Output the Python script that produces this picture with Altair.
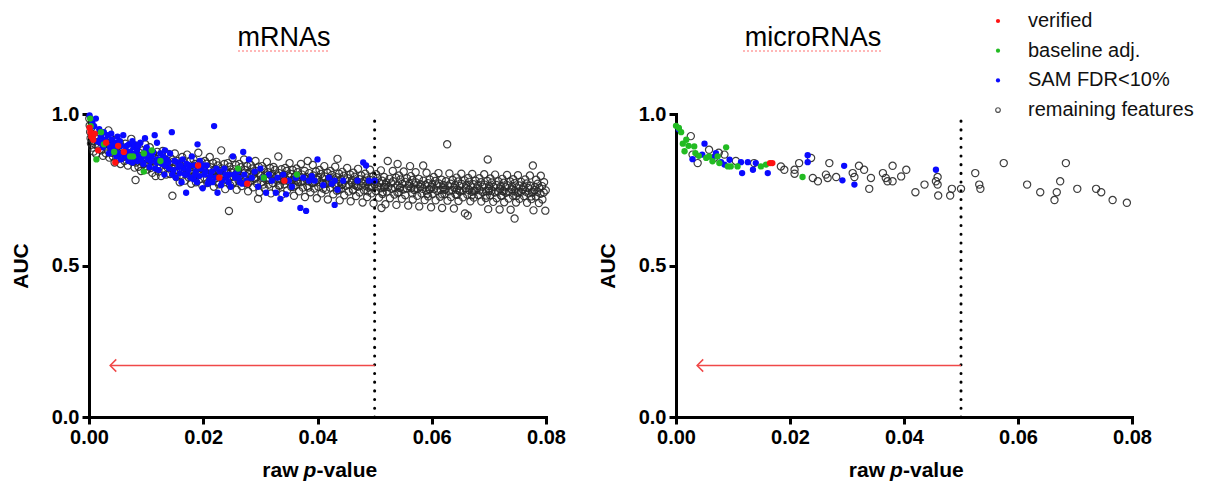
import altair as alt
import pandas as pd

# ---------------- data ----------------
x_ticks = [0.0, 0.02, 0.04, 0.06, 0.08]
y_ticks = [0.0, 0.5, 1.0]
p_cutoff = [0.05]
arrow_tip_p = [0.0037]
arrow_auc = [0.17]

legend_labels = ["verified", "baseline adj.", "SAM FDR<10%", "remaining features"]
legend_colors = ["#ff1111", "#22bb22", "#0a0aff", "#555555"]

# mRNAs: (raw p-value * 1e5, AUC * 1e3)
mrna_grey = [
    (5,985),(12,962),(20,941),(28,920),(35,903),(44,955),(52,930),(60,889),(70,912),(82,876),(95,948),(110,900),(125,868),(140,925),(160,891),(180,910),
    (205,935),(215,880),(230,910),(245,862),(260,898),(278,925),(295,870),(310,905),(325,884),(340,946),(355,856),(370,893),(385,918),(395,872),
    (405,900),(418,860),(430,885),(448,840),(462,915),(475,870),(490,893),(505,852),(520,878),(538,905),(552,835),(566,866),(580,890),(595,858),
    (605,880),(620,845),(634,902),(650,860),(665,873),(680,830),(694,888),(710,851),(725,867),(740,918),(755,842),(770,876),(785,858),(798,823),
    (805,865),(815,782),(822,840),(838,895),(850,855),(866,826),(880,872),(895,845),(910,812),(925,862),(940,880),(955,835),(970,857),(985,900),(995,828),
    (1005,852),(1020,817),(1034,866),(1050,838),(1063,890),(1078,822),(1092,845),(1108,806),(1122,870),(1137,833),(1150,855),(1165,795),(1180,842),(1195,875),
    (1205,845),(1218,810),(1232,862),(1248,828),(1262,795),(1275,840),(1290,878),(1305,817),(1320,852),(1334,832),(1350,800),(1364,846),(1378,823),(1392,868),
    (1405,836),(1418,802),(1430,855),(1445,822),(1460,730),(1472,842),(1488,810),(1502,870),(1516,828),(1530,792),(1545,845),(1558,815),(1572,836),(1588,775),
    (1605,830),(1620,795),(1632,858),(1648,815),(1662,840),(1676,780),(1690,822),(1705,805),(1718,866),(1733,828),(1748,790),(1760,812),(1776,845),(1790,770),
    (1805,825),(1818,792),(1830,850),(1845,812),(1858,835),(1872,775),(1886,818),(1900,800),(1914,872),(1928,826),(1942,786),(1956,808),(1970,842),(1985,763),(1996,818),
    (2005,820),(2018,790),(2030,845),(2045,806),(2058,836),(2072,772),(2086,815),(2100,797),(2114,858),(2128,824),(2142,783),(2156,805),(2170,838),(2185,760),(2195,812),
    (2205,816),(2218,788),(2230,842),(2245,803),(2258,830),(2272,768),(2286,812),(2300,795),(2314,880),(2328,820),(2342,780),(2356,800),(2370,835),(2385,752),(2396,808),
    (2405,812),(2418,784),(2430,838),(2450,680),(2458,826),(2472,765),(2486,808),(2500,792),(2514,855),(2528,818),(2542,776),(2556,798),(2570,832),(2585,750),(2596,805),
    (2605,810),(2618,780),(2630,835),(2645,796),(2658,824),(2672,762),(2686,806),(2700,790),(2714,850),(2728,815),(2742,773),(2756,795),(2770,828),(2785,745),(2796,802),
    (2805,806),(2818,778),(2830,832),(2845,793),(2858,820),(2872,758),(2886,803),(2900,786),(2914,845),(2928,812),(2942,770),(2960,720),(2970,826),(2985,742),(2996,798),
    (3005,803),(3018,775),(3030,828),(3045,790),(3058,817),(3072,755),(3086,800),(3100,783),(3114,842),(3128,808),(3142,767),(3156,788),(3170,822),(3185,738),(3196,795),
    (3205,800),(3218,772),(3230,825),(3245,787),(3258,815),(3272,752),(3286,797),(3300,780),(3314,860),(3328,805),(3342,764),(3356,785),(3370,818),(3385,735),(3396,792),
    (3405,797),(3422,768),(3436,822),(3441,784),(3462,812),(3470,748),(3490,795),(3503,777),(3511,838),(3533,802),(3540,760),(3559,782),(3566,815),(3588,730),(3594,790),
    (3608,795),(3615,765),(3633,820),(3641,781),(3655,808),(3678,745),(3683,792),(3704,775),(3710,835),(3731,800),(3745,757),(3752,779),(3774,812),(3781,726),(3799,786),
    (3802,792),(3821,762),(3828,845),(3849,778),(3855,805),(3876,742),(3881,790),(3903,772),(3917,832),(3925,797),(3946,754),(3952,776),(3973,810),(3988,722),(3993,783),
    (4008,790),(4015,760),(4036,815),(4042,775),(4061,802),(4069,738),(4090,787),(4097,769),(4118,828),(4125,794),(4147,750),(4152,773),(4175,806),(4181,718),(4199,780),
    (4203,787),(4222,757),(4227,812),(4249,772),(4255,799),(4276,735),(4283,784),(4304,766),(4310,826),(4333,791),(4338,747),(4350,852),(4361,770),(4378,803),(4389,715),(4394,777),
    (4409,784),(4414,754),(4435,809),(4441,769),(4463,796),(4468,732),(4490,781),(4497,763),(4519,822),(4524,788),(4546,744),(4551,767),(4574,800),(4581,712),(4599,774),
    (4601,781),(4623,751),(4627,806),(4649,766),(4654,793),(4676,729),(4682,778),(4704,760),(4710,819),(4732,785),(4737,741),(4760,764),(4766,797),(4789,708),(4793,771),
    (4808,778),(4814,748),(4835,803),(4841,763),(4862,790),(4869,726),(4891,775),(4896,757),(4919,816),(4924,782),(4946,738),(4952,761),(4974,794),(4981,705),(4999,768),
    (5003,776),(5022,746),(5027,801),(5049,761),(5054,788),(5076,724),(5082,773),(5104,755),(5110,814),(5120,690),(5132,780),(5137,736),(5160,759),(5166,792),(5189,702),(5193,766),
    (5208,774),(5214,744),(5230,845),(5241,759),(5262,786),(5268,722),(5290,771),(5296,753),(5318,812),(5324,778),(5346,734),(5352,757),(5374,790),(5381,700),(5399,764),
    (5402,835),(5421,742),(5427,797),(5449,757),(5454,784),(5476,720),(5482,769),(5504,751),(5509,810),(5532,776),(5537,732),(5560,755),(5566,788),(5588,698),(5593,762),
    (5607,770),(5620,828),(5634,795),(5641,755),(5662,782),(5668,718),(5690,767),(5696,749),(5718,808),(5724,774),(5746,730),(5752,753),(5774,786),(5781,695),(5799,760),
    (5803,768),(5822,738),(5841,753),(5850,830),(5854,780),(5876,716),(5882,765),(5904,747),(5909,806),(5932,772),(5937,728),(5960,751),(5966,784),(5988,692),(5993,758),
    (6008,767),(6014,737),(6035,792),(6041,752),(6062,779),(6068,715),(6090,764),(6096,746),(6118,805),(6124,771),(6146,727),(6152,750),(6174,783),(6181,690),(6199,757),
    (6203,766),(6222,736),(6241,751),(6249,778),(6270,900),(6276,714),(6282,763),(6304,745),(6309,804),(6332,770),(6337,726),(6360,749),(6366,782),(6388,688),(6393,756),
    (6408,765),(6414,735),(6435,790),(6441,750),(6462,777),(6468,713),(6490,762),(6496,744),(6518,803),(6524,769),(6546,725),(6552,748),(6574,781),(6581,672),(6599,755),
    (6603,764),(6622,734),(6630,665),(6638,789),(6649,749),(6654,776),(6676,712),(6682,761),(6704,743),(6709,802),(6732,768),(6737,724),(6760,747),(6766,780),(6793,754),
    (6808,763),(6814,733),(6835,788),(6841,748),(6862,775),(6868,711),(6890,760),(6896,742),(6918,801),(6924,767),(6946,723),(6952,746),(6974,779),(6980,850),(6988,686),(6999,753),
    (7003,762),(7022,732),(7027,787),(7049,747),(7054,774),(7076,710),(7082,759),(7104,741),(7109,800),(7132,766),(7137,722),(7160,745),(7166,778),(7188,685),(7193,752),
    (7208,761),(7214,731),(7235,786),(7241,746),(7262,773),(7268,709),(7290,758),(7296,740),(7318,799),(7324,765),(7346,721),(7352,744),(7374,777),(7381,684),(7399,751),
    (7403,760),(7422,730),(7427,785),(7449,745),(7450,655),(7454,772),(7476,708),(7482,757),(7504,739),(7509,798),(7532,764),(7537,720),(7560,743),(7566,776),(7593,750),
    (7608,759),(7614,729),(7635,784),(7641,744),(7662,771),(7668,707),(7690,756),(7696,738),(7718,797),(7724,763),(7746,719),(7752,742),(7770,830),(7781,682),(7799,749),
    (7803,758),(7822,728),(7827,783),(7849,743),(7854,770),(7876,706),(7882,755),(7904,737),(7909,796),(7932,762),(7937,718),(7960,741),(7966,775),(7988,681),(7996,748),
    # denser core of the band
    (2110,800),(2390,795),(2620,790),(2890,788),(3150,782),(3410,780),(3660,776),(3920,772),(4160,770),(4420,766),(4680,763),(4930,760),
    (5180,758),(5440,756),(5700,754),(5960,752),(6220,750),(6480,748),(6740,747),(7000,746),(7260,745),(7520,744),(7780,743),
    (2240,776),(2520,772),(2780,770),(3050,767),(3320,764),(3580,760),(3840,757),(4100,754),(4370,750),(4620,748),(4880,745),
    (5140,742),(5400,740),(5660,738),(5920,736),(6180,735),(6440,733),(6700,732),(6960,731),(7220,730),(7480,729),(7740,728),
]

mrna_blue = [
    (10,995),(60,970),(120,985),(180,950),(210,925),(260,940),(300,905),(330,930),(370,890),(400,915),(430,880),(460,905),(500,925),(520,870),
    (560,895),(600,930),(640,880),(680,865),(700,900),(740,855),(780,890),(820,870),(850,845),(880,860),(900,905),(950,835),(990,880),(1030,850),
    (1060,825),(1100,860),(1150,930),(1180,840),(1220,815),(1250,870),(1280,835),(1320,800),(1360,850),(1400,820),(1450,940),(1480,815),(1520,790),
    (1550,840),(1590,805),(1620,775),(1660,820),(1700,740),(1720,800),(1760,830),(1800,860),(1830,785),(1870,810),(1900,900),(1930,795),(1960,820),
    (1990,755),(2020,800),(2060,830),(2100,780),(2190,960),(2150,810),(2210,790),(2250,740),(2290,810),(2330,780),(2370,820),(2410,790),(2450,800),
    (2480,760),(2520,860),(2560,790),(2600,810),(2640,775),(2700,875),(2720,800),(2760,780),(2800,850),(2850,790),(2900,810),(2960,760),(3000,820),
    (3050,790),(3100,740),(3150,800),(3200,780),(3270,740),(3300,790),(3350,720),(3400,800),(3450,735),(3500,780),(3550,760),(3620,790),(3700,690),
    (3750,790),(3800,680),(3850,780),(3900,795),(3950,780),(4000,850),(4100,765),(4200,790),(4250,770),(4300,780),(4350,750),(4300,700),(4450,780),
    (4700,780),(4800,840),(4850,830),(4900,780),(5000,780),
    (150,910),(240,890),(350,870),(420,900),(480,860),(540,910),(620,860),(660,895),(720,875),(760,840),(800,900),(840,880),(920,850),(970,865),
    (1010,890),(1080,845),(1120,875),(1200,850),(1300,860),(1340,830),(1420,870),(1500,845),(1570,825),(1640,850),(1680,800),(1740,815),(1780,790),
    (1850,830),(1890,775),(1940,845),(2040,810),(2080,770),(2120,795),(2230,820),(2310,765),(2390,800),(2440,775),(2540,800),(2620,790),(2680,770),
    (90,960),(200,905),(280,915),(390,935),(450,885),(580,870),(690,845),(860,895),(1040,870),(1160,820),(1270,850),(1390,840),(1600,830),(1710,835),
    (1330,880),(1190,905),(980,920),(760,910),(560,850),(1460,800),(1860,800),(2000,830),(2160,775),
]
mrna_green = [
    (20,985),(30,960),(130,850),(210,940),(260,900),(440,875),(720,860),(770,860),(960,870),(960,810),(1250,845),(2610,820),(3060,790),(3640,800),(1100,880),
]
mrna_red = [
    (10,955),(25,940),(40,925),(55,930),(75,915),(100,935),(160,880),(300,905),(460,840),(510,895),(610,875),(1910,830),(2280,790),(2770,770),(3420,780),
]

# microRNAs
mirna_grey_p = [0.0026, 0.0029, 0.0038, 0.0058, 0.0067, 0.0075, 0.0085, 0.0105, 0.0137, 0.0184, 0.0190, 0.0208, 0.0208, 0.0216,
                0.0237, 0.0240, 0.0249, 0.0263, 0.0266, 0.0269, 0.0281, 0.0310, 0.0313, 0.0321, 0.0330, 0.0342, 0.0339, 0.0363,
                0.0368, 0.0371, 0.0380, 0.0380, 0.0395, 0.0404, 0.0420, 0.0436, 0.0456, 0.0459, 0.0459, 0.0460, 0.0481, 0.0484,
                0.0500, 0.0525, 0.0532, 0.0534, 0.0575, 0.0616, 0.0639, 0.0668, 0.0674, 0.0664, 0.0684, 0.0704, 0.0737, 0.0746,
                0.0766, 0.0791]
mirna_grey_auc = [0.927, 0.866, 0.838, 0.882, 0.855, 0.872, 0.866, 0.845, 0.838, 0.827, 0.816, 0.816, 0.803, 0.838,
                  0.855, 0.789, 0.778, 0.800, 0.789, 0.838, 0.792, 0.805, 0.792, 0.829, 0.816, 0.789, 0.753, 0.805,
                  0.789, 0.778, 0.829, 0.778, 0.794, 0.816, 0.742, 0.767, 0.778, 0.792, 0.767, 0.731, 0.731, 0.753,
                  0.753, 0.805, 0.767, 0.753, 0.838, 0.767, 0.742, 0.742, 0.778, 0.716, 0.838, 0.753, 0.753, 0.742,
                  0.716, 0.707]
mirna_blue_p = [0.0005, 0.0029, 0.0050, 0.0046, 0.0064, 0.0070, 0.0079, 0.0085, 0.0094, 0.0114, 0.0126, 0.0135, 0.0116,
                0.0140, 0.0161, 0.0231, 0.0231, 0.0295, 0.0292, 0.0313, 0.0456]
mirna_blue_auc = [0.950, 0.851, 0.902, 0.866, 0.855, 0.871, 0.841, 0.833, 0.849, 0.841, 0.841, 0.816, 0.805,
                  0.838, 0.805, 0.864, 0.841, 0.829, 0.781, 0.767, 0.816]
mirna_green_p = [0.0, 0.0005, 0.0009, 0.0012, 0.0015, 0.0018, 0.0022, 0.0032, 0.0034, 0.0040, 0.0053, 0.0058, 0.0064,
                 0.0073, 0.0076, 0.0088, 0.0091, 0.0096, 0.0108, 0.0149, 0.0158, 0.0222]
mirna_green_auc = [0.961, 0.954, 0.940, 0.902, 0.877, 0.915, 0.895, 0.893, 0.871, 0.862, 0.855, 0.860, 0.844,
                   0.860, 0.838, 0.890, 0.827, 0.827, 0.827, 0.827, 0.833, 0.792]
mirna_red_p = [0.0165, 0.0169]
mirna_red_auc = [0.838, 0.838]

# ---------------- helpers ----------------
FONT = "Liberation Sans"
W_L, W_R, H = 457, 456, 303


def pairs_df(pairs):
    return pd.DataFrame({"p": [a / 1e5 for a, b in pairs], "auc": [b / 1e3 for a, b in pairs]})


def lists_df(ps, aucs):
    return pd.DataFrame({"p": ps, "auc": aucs})


def panel(title, title_x, title_w, width, grey, blue, green, red, with_legend):
    xs = alt.X("p:Q", scale=alt.Scale(domain=[0, 0.08], nice=False, zero=False),
               axis=alt.Axis(values=x_ticks, format=".2f", title="", labelFlush=False))
    ys = alt.Y("auc:Q", scale=alt.Scale(domain=[0, 1], nice=False),
               axis=alt.Axis(values=y_ticks, format=".1f", title="AUC", labelFlush=False))
    layers = [
        alt.Chart(grey).mark_point(shape="circle", filled=False, size=52, strokeWidth=1.2,
                                   color="#2a2a2a", opacity=0.9).encode(x=xs, y=ys),
        alt.Chart(blue).mark_circle(size=40, color=legend_colors[2], opacity=1).encode(x=xs, y=ys),
        alt.Chart(green).mark_circle(size=40, color=legend_colors[1], opacity=1).encode(x=xs, y=ys),
        alt.Chart(red).mark_circle(size=40, color=legend_colors[0], opacity=1).encode(x=xs, y=ys),
    ]
    cut = pd.DataFrame({"p": p_cutoff, "y0": [0.0], "y1": [1.0]})
    layers.append(alt.Chart(cut).mark_rule(color="black", strokeWidth=3, strokeDash=[0.1, 8.6],
                                           strokeCap="round").encode(x="p:Q", y="y0:Q", y2="y1:Q"))
    arr = pd.DataFrame({"p": p_cutoff, "tip": arrow_tip_p, "auc": arrow_auc})
    layers.append(alt.Chart(arr).mark_rule(color="#f04848", strokeWidth=1.5).encode(
        x="p:Q", x2="tip:Q", y="auc:Q"))
    head = pd.DataFrame({"p": arrow_tip_p, "auc": arrow_auc})
    layers.append(alt.Chart(head).mark_point(shape="M 1 -1 L 0 0 L 1 1", filled=False, size=150,
                                             color="#f04848", strokeWidth=1.5, opacity=1).encode(
        x="p:Q", y="auc:Q"))
    # panel title with its spell-check underline
    layers.append(alt.Chart(pd.DataFrame({"t": [title]})).mark_text(
        font=FONT, fontSize=27, color="black", align="center", baseline="alphabetic").encode(
        text="t:N", x=alt.value(title_x), y=alt.value(-68)))
    layers.append(alt.Chart(pd.DataFrame({"t": [title]})).mark_rule(
        color="#ff7070", strokeWidth=1.2, strokeDash=[2, 2]).encode(
        x=alt.value(title_x - title_w / 2), x2=alt.value(title_x + title_w / 2), y=alt.value(-63)))
    # x-axis title "raw p-value" with italic p
    cx = width / 2
    parts = [("raw", "right", "normal", cx - 19), ("p", "left", "italic", cx - 14), ("-value", "left", "normal", cx - 1)]
    for txt, al, st, xv in parts:
        layers.append(alt.Chart(pd.DataFrame({"t": [txt]})).mark_text(
            font=FONT, fontSize=21, fontWeight="bold", fontStyle=st, color="black", align=al,
            baseline="alphabetic").encode(text="t:N", x=alt.value(xv), y=alt.value(H + 60)))
    # invisible spacer so both panels share the same top extent
    layers.append(alt.Chart(pd.DataFrame({"t": ["."]})).mark_text(
        font=FONT, fontSize=20, opacity=0, align="left", baseline="middle").encode(
        text="t:N", x=alt.value(10), y=alt.value(-93)))
    if with_legend:
        for i, (lab, col) in enumerate(zip(legend_labels, legend_colors)):
            yy = -93 + 29.7 * i
            d = pd.DataFrame({"t": [lab]})
            if i < 3:
                layers.append(alt.Chart(d).mark_circle(size=18, color=col, opacity=1).encode(
                    x=alt.value(322), y=alt.value(yy)))
            else:
                layers.append(alt.Chart(d).mark_point(shape="circle", filled=False, size=22, strokeWidth=1.2,
                                                      color=col, opacity=1).encode(
                    x=alt.value(322), y=alt.value(yy)))
            layers.append(alt.Chart(d).mark_text(font=FONT, fontSize=20, color="#111111", align="left",
                                                 baseline="middle").encode(
                text="t:N", x=alt.value(352), y=alt.value(yy)))
    return alt.layer(*layers).properties(width=width, height=H)


left = panel("mRNAs", 195, 92, W_L, pairs_df(mrna_grey), pairs_df(mrna_blue), pairs_df(mrna_green),
             pairs_df(mrna_red), False)
right = panel("microRNAs", 137, 140, W_R, lists_df(mirna_grey_p, mirna_grey_auc), lists_df(mirna_blue_p, mirna_blue_auc),
              lists_df(mirna_green_p, mirna_green_auc), lists_df(mirna_red_p, mirna_red_auc), True)

chart = alt.HConcatChart(hconcat=[left, right], spacing=130, bounds="flush").properties(
    padding={"left": 2, "top": 3, "right": 0, "bottom": 0}
).configure_view(stroke=None).configure_axis(
    grid=False, domainColor="black", domainWidth=3, domainCap="square", tickColor="black", tickWidth=3,
    tickSize=7, labelFont=FONT, labelFontSize=20, labelFontWeight="bold", labelColor="black", labelPadding=3,
    titleFont=FONT, titleFontSize=21, titleFontWeight="bold", titleColor="black", titlePadding=20
)

chart.save("out.html", embed_options={"renderer": "svg", "actions": False})
